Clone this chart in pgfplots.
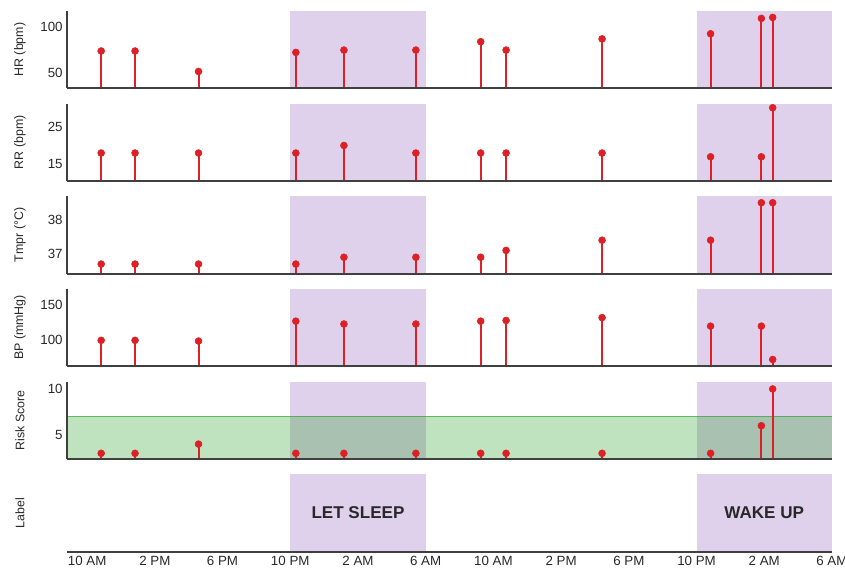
\documentclass[border=0pt]{standalone}
\usepackage{pgfplots}
\usepackage{pgfplotstable}
\pgfplotsset{compat=1.18}
\usepackage{fontspec}
\setmainfont{Liberation Sans}

\definecolor{stem}{RGB}{220,32,38}
\definecolor{spine}{RGB}{64,64,64}
\definecolor{txt}{RGB}{40,40,40}
\definecolor{night}{RGB}{150,100,190}
\definecolor{safe}{RGB}{44,160,44}

% hours since midnight of day one
\pgfplotstableread{
t     hr   rr  tmp   bp  risk
10.83 74   18  36.7  100 3
12.83 74   18  36.7  100 3
16.58 52   18  36.7  99  4
22.33 72.5 18  36.7  127 3
25.17 75   20  36.9  123 3
29.42 75   18  36.9  123 3
33.25 84   18  36.9  127 3
34.75 75   18  37.1  128 3
40.42 87   18  37.4  132 3
46.83 92.5 17  37.4  120 3
49.83 109  17  38.5  120 6
50.50 110  30  38.5  73  10
}\vitals

\pgfplotsset{
  panel/.style={
    scale only axis, width=573.5pt, height=58pt,
    xmin=8.83, xmax=54,
    axis lines*=left,
    axis line style={spine, line width=1.5pt},
    axis on top,
    major tick length=0pt,
    xtick={10,14,...,54}, xticklabels={},
    tick label style={font=\fontsize{10}{12}\selectfont, text=txt},
    every axis y label/.style={at={([xshift=-35.5pt]axis description cs:0,0.5)},
      anchor=center, rotate=90, font=\fontsize{9.3}{11}\selectfont, text=txt},
    /pgf/number format/assume math mode=true,
    anchor=south west,
  },
  stems/.style={ycomb, stem, line width=1.5pt, mark=*, mark size=2.6pt,
    mark options={fill=stem, draw=stem, line width=0.4pt}},
}

\newcommand{\nightband}[2]{%
  \fill[night, fill opacity=0.3] ({axis cs:#1,0} |- {rel axis cs:0,0}) rectangle ({axis cs:#2,0} |- {rel axis cs:1,1});}

\begin{document}
\begin{tikzpicture}
\useasboundingbox (-50.5pt,-426.75pt) rectangle (583.3pt,0pt);

% heart rate
\begin{axis}[panel, at={(0pt,-66.2pt)}, ymin=34, ymax=117, ytick={50,100}, ylabel={HR (bpm)}]
  \nightband{22}{30}\nightband{46}{54}
  \addplot[stems] table[x=t, y=hr] {\vitals};
\end{axis}

% respiratory rate
\begin{axis}[panel, at={(0pt,-135.7pt)}, ymin=10.6, ymax=31.1, ytick={15,25}, ylabel={RR (bpm)}]
  \nightband{22}{30}\nightband{46}{54}
  \addplot[stems] table[x=t, y=rr] {\vitals};
\end{axis}

% temperature
\begin{axis}[panel, at={(0pt,-205.2pt)}, ymin=36.42, ymax=38.69, ytick={37,38}, ylabel={Tmpr (°C)}]
  \nightband{22}{30}\nightband{46}{54}
  \addplot[stems] table[x=t, y=tmp] {\vitals};
\end{axis}

% blood pressure
\begin{axis}[panel, at={(0pt,-274.7pt)}, ymin=63.5, ymax=172.4, ytick={100,150}, ylabel={BP (mmHg)}]
  \nightband{22}{30}\nightband{46}{54}
  \addplot[stems] table[x=t, y=bp] {\vitals};
\end{axis}

% risk score with the safe band up to 7
\begin{axis}[panel, at={(0pt,-344.2pt)}, ymin=2.39, ymax=10.8, ytick={5,10}, ylabel={Risk Score}]
  \nightband{22}{30}\nightband{46}{54}
  \fill[safe, fill opacity=0.3] (rel axis cs:0,0) rectangle ({rel axis cs:1,0} |- {axis cs:0,7});
  \draw[safe, draw opacity=0.75, line width=1pt] ({rel axis cs:0,0} |- {axis cs:0,7}) -- ({rel axis cs:1,0} |- {axis cs:0,7});
  \addplot[stems] table[x=t, y=risk] {\vitals};
\end{axis}

% action labels
\begin{axis}[panel, at={(0pt,-413.7pt)}, ymin=0, ymax=1, ytick=\empty,
  y axis line style={draw=none}, ylabel={Label},
  xticklabels={10 AM,2 PM,6 PM,10 PM,2 AM,6 AM,10 AM,2 PM,6 PM,10 PM,2 AM,6 AM}]
  \nightband{22}{30}\nightband{46}{54}
  \node[font=\bfseries\fontsize{12.8}{14}\selectfont, text=txt] at (axis cs:26,0.5) {LET SLEEP};
  \node[font=\bfseries\fontsize{12.8}{14}\selectfont, text=txt] at (axis cs:50,0.5) {WAKE UP};
\end{axis}
\end{tikzpicture}
\end{document}
